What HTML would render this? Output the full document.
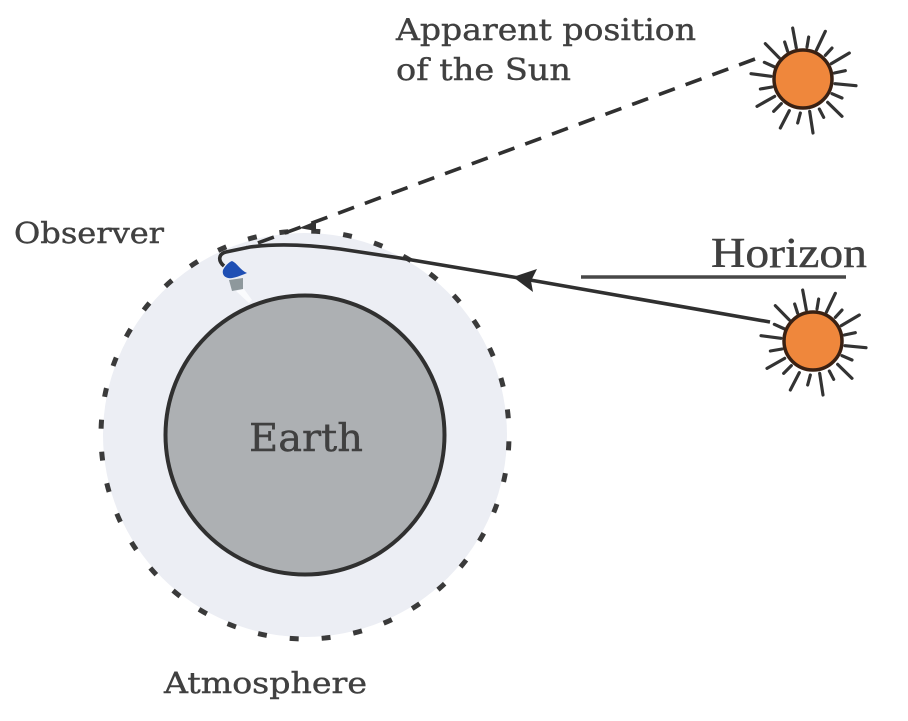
<!DOCTYPE html>
<html>
<head>
<meta charset="utf-8">
<style>
html,body{margin:0;padding:0;background:#fff;width:908px;height:721px;overflow:hidden}
svg{display:block}
text{font-family:"DejaVu Serif","Liberation Serif",serif;fill:#404040;stroke:#404040;stroke-width:.4}
</style>
</head>
<body>
<svg width="908" height="721" viewBox="0 0 908 721" xmlns="http://www.w3.org/2000/svg">
<defs>
<g id="sun">
<g transform="scale(0.3333) translate(-188,-178)" stroke="#333" stroke-width="9.5" stroke-linecap="round" fill="none">
<path d="M157 25L168 85M205 52L200 82M255 35L228 92M133 67L142 95M75 72L117 115M275 85L255 107M327 100L273 132M72 128L103 142M315 153L282 160M32 162L92 170M347 198L284 192M60 208L95 202M305 235L275 222M50 260L103 230M305 290L262 248M100 275L123 252M250 293L237 268M120 325L147 273M172 310L180 280M218 340L208 275"/>
</g>
<circle r="29" fill="#ef873c" stroke="#3a2113" stroke-width="3.5"/>
</g>
</defs>

<circle cx="305" cy="435" r="202" fill="#eceef4"/>
<circle cx="305" cy="435" r="204" fill="none" stroke="#3a3a3a" stroke-width="5" pathLength="40" stroke-dasharray="0.28 0.72" stroke-dashoffset="-0.2"/>
<circle cx="305" cy="435" r="139.5" fill="#adb0b3" stroke="#303030" stroke-width="4"/>

<path d="M236 291L244 289L252 300L249 303Z" fill="#fafbfd"/>
<path d="M229 280L243 278L243 289L232 291Z" fill="#8e989c"/>
<path d="M223 270C225 266 229 262 232 261C237 263 240 270 247 273C240 276 232 279 228 278C224 277 222 274 223 270Z" fill="#1f4fb4"/>

<path d="M224 266C218 261 218 254 226 252L250 247C280 243 310 245 340 249L400 258L513 277L770 322" fill="none" stroke="#303030" stroke-width="3.6"/>
<path d="M513 277L537 269L531 281L533 292Z" fill="#2c2c2c"/>
<path d="M755 59L247 247" fill="none" stroke="#303030" stroke-width="3.6" stroke-dasharray="17 11.5"/>
<path d="M299 228L316 221L316 231Z" fill="#333"/>
<path d="M581 277H846" stroke="#484848" stroke-width="3.5"/>

<use href="#sun" x="803" y="79"/>
<use href="#sun" x="813" y="341"/>

<text x="396" y="40" font-size="30" textLength="300" lengthAdjust="spacingAndGlyphs">Apparent position</text>
<text x="396" y="80" font-size="30" textLength="175" lengthAdjust="spacingAndGlyphs">of the Sun</text>
<text x="14" y="243" font-size="29" textLength="150" lengthAdjust="spacingAndGlyphs">Observer</text>
<text x="711" y="267" font-size="42" textLength="156" lengthAdjust="spacingAndGlyphs" style="font-family:'Liberation Serif',serif">Horizon</text>
<text x="249" y="451" font-size="38" textLength="114" lengthAdjust="spacingAndGlyphs">Earth</text>
<text x="164" y="693" font-size="29" textLength="203" lengthAdjust="spacingAndGlyphs">Atmosphere</text>
</svg>
</body>
</html>
